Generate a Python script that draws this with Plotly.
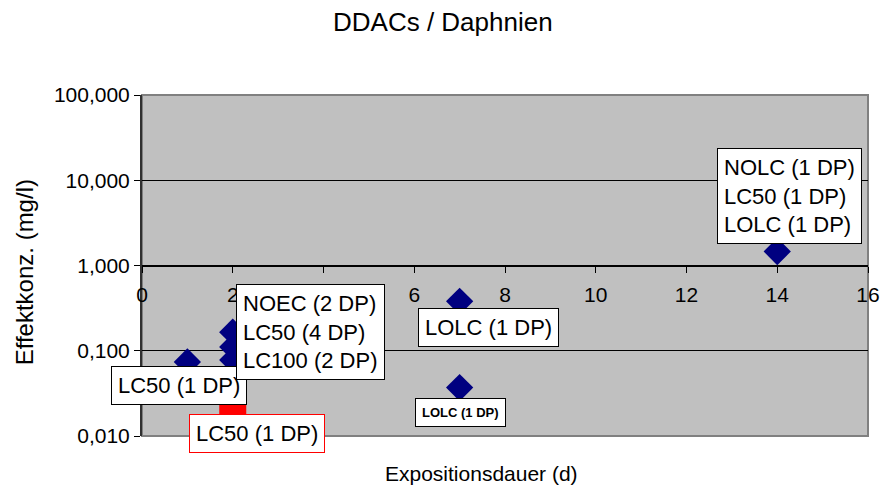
import plotly.graph_objects as go

# Effect concentrations of DDACs on Daphnia vs. exposure duration
days = [1, 2, 2, 2, 2, 7, 7, 14]
conc_mg_l = [0.074, 0.165, 0.111, 0.078, 0.034, 0.38, 0.037, 1.46]

red_days = [2]
red_conc_mg_l = [0.024]

x_ticks = [0, 2, 4, 6, 8, 10, 12, 14, 16]
y_ticks = [0.01, 0.1, 1, 10, 100]
y_tick_text = ["0,010", "0,100", "1,000", "10,000", "100,000"]

FONT = "Arial, Liberation Sans, sans-serif"
W, H = 892, 495
L, R, T, B = 142, 22, 95, 59

def px_x(p):
    return (p - L) / (W - L - R)

def px_y(p):
    return 1 - (p - T) / (H - T - B)

fig = go.Figure()

fig.add_trace(go.Scatter(
    x=days, y=conc_mg_l, mode="markers",
    marker=dict(symbol="diamond", size=21, color="#000080", line=dict(width=0)),
    showlegend=False, hoverinfo="x+y",
))
fig.add_trace(go.Scatter(
    x=red_days, y=red_conc_mg_l, mode="markers",
    marker=dict(symbol="square", size=27, color="#FF0000", line=dict(width=0)),
    showlegend=False, hoverinfo="x+y",
))

# data-point labels: (text, centre x px, centre y px, border colour, size, padding)
labels = [
    ("LC50 (1 DP)", 179.5, 385.5, "black", 22, 6),
    ("NOEC (2 DP)<br>LC50 (4 DP)<br>LC100 (2 DP)", 310.5, 331.5, "black", 22, 6),
    ("LC50 (1 DP)", 257, 433, "#FF0000", 22, 6),
    ("LOLC (1 DP)", 489.5, 327.5, "black", 22, 6),
    ("<b>LOLC (1 DP)</b>", 461.5, 412, "black", 13, 6),
    ("NOLC (1 DP)<br>LC50 (1 DP)<br>LOLC (1 DP)", 791.5, 195.5, "black", 22, 6),
]
annotations = []
for text, cx, cy, bc, fs, pad in labels:
    annotations.append(dict(
        text=text, xref="paper", yref="paper", x=px_x(cx), y=px_y(cy),
        xanchor="center", yanchor="middle", showarrow=False, align="left",
        bgcolor="white", bordercolor=bc, borderwidth=1, borderpad=pad,
        font=dict(family=FONT, size=fs, color="black"),
    ))

annotations.append(dict(
    text="Expositionsdauer (d)", xref="paper", yref="paper",
    x=px_x(482), y=px_y(474), xanchor="center", yanchor="middle",
    showarrow=False, font=dict(family=FONT, size=21, color="black"),
))
annotations.append(dict(
    text="Effektkonz. (mg/l)", xref="paper", yref="paper",
    x=px_x(24), y=px_y(272), xanchor="center", yanchor="middle",
    textangle=-90, showarrow=False, font=dict(family=FONT, size=24, color="black"),
))
annotations.append(dict(
    text="DDACs / Daphnien", xref="paper", yref="paper",
    x=px_x(444), y=px_y(22), xanchor="center", yanchor="middle",
    showarrow=False, font=dict(family=FONT, size=26, color="black"),
))

fig.update_layout(
    width=W, height=H,
    margin=dict(l=L, r=R, t=T, b=B),
    paper_bgcolor="white", plot_bgcolor="#C0C0C0",
    font=dict(family=FONT, size=21, color="black"),
    annotations=annotations,
    shapes=[dict(type="rect", xref="paper", yref="paper", x0=0, x1=1, y0=0, y1=1,
                 line=dict(color="#808080", width=2), layer="below")],
    xaxis=dict(
        range=[0, 16], tickvals=x_ticks, ticks="outside", ticklen=6, tickcolor="black",
        showline=True, linecolor="black", linewidth=1, showgrid=False, zeroline=False,
        anchor="free", position=0.5, tickfont=dict(family=FONT, size=21),
        ticklabelstandoff=4,
    ),
    yaxis=dict(
        type="log", range=[-2, 2], tickvals=y_ticks, ticktext=y_tick_text,
        ticks="outside", ticklen=6, tickcolor="black",
        showline=True, linecolor="#303030", linewidth=2,
        showgrid=True, gridcolor="black", gridwidth=1, zeroline=False,
        tickfont=dict(family=FONT, size=21),
    ),
)

fig.write_html("out.html")
